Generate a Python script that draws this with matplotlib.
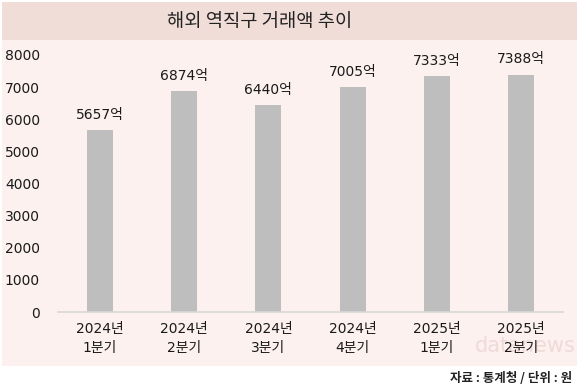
import matplotlib
matplotlib.use("Agg")
import matplotlib.pyplot as plt
from matplotlib.patches import Rectangle

plt.rcParams['font.family'] = ['DejaVu Sans', 'Noto Sans CJK KR']

categories = ["2024년\n1분기", "2024년\n2분기", "2024년\n3분기", "2024년\n4분기", "2025년\n1분기", "2025년\n2분기"]
values = [5657, 6874, 6440, 7005, 7333, 7388]
labels = ["5657억", "6874억", "6440억", "7005억", "7333억", "7388억"]
yticks = [0, 1000, 2000, 3000, 4000, 5000, 6000, 7000, 8000]
title = "해외 역직구 거래액 추이"
source = "자료 : 통계청 / 단위 : 원"

fig = plt.figure(figsize=(5.8, 3.92), dpi=100)
fig.patch.set_facecolor("white")
# panel background
fig.patches.append(Rectangle((2/580, 1-366/392), 575/580, (366-40)/392, transform=fig.transFigure,
                             facecolor="#fcf1ef", edgecolor="none", zorder=-2))
# title band
fig.patches.append(Rectangle((2/580, 1-40/392), 575/580, 38/392, transform=fig.transFigure,
                             facecolor="#f1ddd7", edgecolor="none", zorder=-2))
fig.text(260/580, 1-21/392, title, ha="center", va="center", fontsize=13.5, color="#222222",
         fontweight="medium", family=['Noto Sans CJK KR', 'DejaVu Sans'])

# watermark
fig.text(576/580, 1-346/392, "datanews", ha="right", va="center", fontsize=15, color="#e9cbc7", alpha=0.6, zorder=-1)

fs = 10
fw = "medium"
ax = fig.add_axes([58/580, 1-312/392, (563-58)/580, (312-55)/392])
ax.set_zorder(1)
ax.set_facecolor("none")
x = list(range(len(values)))
ax.bar(x, values, width=0.31, color="#bebebe", zorder=2)
for xi, v, lab in zip(x, values, labels):
    ax.text(xi, v + 260, lab, ha="center", va="bottom", fontsize=fs, color="#1a1a1a", fontweight=fw)
ax.set_xlim(-0.5, 5.5)
ax.set_ylim(0, 8000)
ax.set_yticks(yticks)
ax.set_yticklabels([str(t) for t in yticks], fontsize=fs, color="#1a1a1a", fontweight=fw)
ax.set_xticks(x)
ax.set_xticklabels(categories, fontsize=fs, color="#1a1a1a", fontweight=fw, linespacing=1.45)
ax.tick_params(axis="both", length=0)
ax.tick_params(axis="y", pad=13)
ax.tick_params(axis="x", pad=7)
for s in ["top", "right", "left"]:
    ax.spines[s].set_visible(False)
ax.spines["bottom"].set_color("#d8d8d8")
ax.spines["bottom"].set_linewidth(1.2)

fig.text(572/580, 1-378/392, source, ha="right", va="center", fontsize=9, color="#222222",
         fontweight="bold", family=['Noto Sans CJK KR', 'DejaVu Sans'])

fig.savefig("out.png", dpi=100, facecolor=fig.get_facecolor())
